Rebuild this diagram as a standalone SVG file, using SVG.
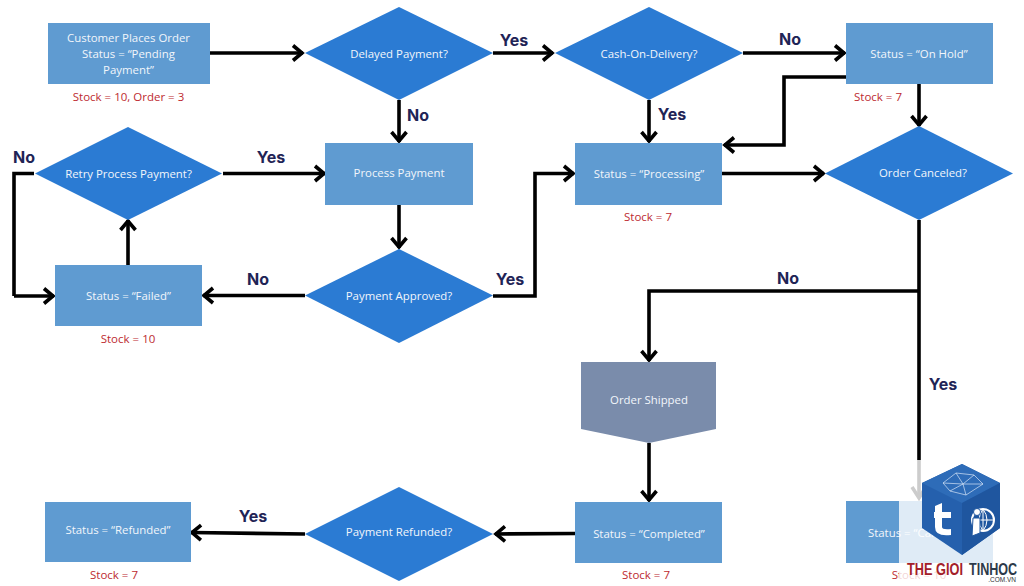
<svg xmlns="http://www.w3.org/2000/svg" width="1024" height="586" viewBox="0 0 1024 586">
<style>
.box{fill:#5f9bd1}
.dia{fill:#2b7bd3}
.gray{fill:#7a8cab}
.t{font:11.4px "Open Sans","Liberation Sans",sans-serif;fill:#f2f6fb;text-anchor:middle}
.s{font:11.5px "Open Sans","Liberation Sans",sans-serif;fill:#bd2a30;text-anchor:middle}
.l{font:bold 16px "Inter","Liberation Sans",sans-serif;fill:#1f2456;text-anchor:middle}
.c{fill:none;stroke:#000;stroke-width:3.6}
.a{marker-end:url(#h)}
.logo{font-family:"Liberation Sans",sans-serif;font-size:17px;font-weight:bold}
</style>
<defs>
<marker id="h" markerUnits="userSpaceOnUse" markerWidth="18" markerHeight="20" refX="14" refY="10" orient="auto" overflow="visible">
<path d="M4 2.500L13 10L4 17.500" fill="none" stroke="#000" stroke-width="3.6"/>
</marker>
</defs>
<rect width="1024" height="586" fill="#fff"/>
<g id="connectors">
<path class="c a" d="M210 53H303"/>
<path class="c a" d="M493 53H553"/>
<path class="c a" d="M743 53H845"/>
<path class="c a" d="M399 100V142"/>
<path class="c a" d="M649 100V142"/>
<path class="c a" d="M846 77H784V145H724"/>
<path class="c a" d="M919 84V126"/>
<path class="c a" d="M722 173.500H824"/>
<path class="c a" d="M223 173.500H325"/>
<path class="c" d="M34 173.500H14V296"/>
<path class="c a" d="M14 296H54"/>
<path class="c a" d="M128 265V220"/>
<path class="c a" d="M399 205V248"/>
<path class="c a" d="M305 295.500H203"/>
<path class="c a" d="M493 296H535V173.500H574"/>
<path class="c" d="M919 220V498"/>
<path class="c a" d="M919 291H649V361"/>
<path class="c a" d="M649 443V501"/>
<path class="c a" d="M575 533.500L495 534"/>
<path class="c a" d="M305 534L191 532.500"/>
<path d="M912 487L919 498L926 487" fill="none" stroke="#000" stroke-width="3.6"/>
</g>
<g id="n-order"><rect class="box" x="48" y="23" width="162" height="61"/><text class="t" x="128.500" y="42">Customer Places Order</text><text class="t" x="128.500" y="58">Status = “Pending</text><text class="t" x="128.500" y="74">Payment”</text><text class="s" x="128.500" y="101">Stock = 10, Order = 3</text></g>
<g id="n-delayed"><polygon class="dia" points="305,53 399,7 493,53 399,100"/><text class="t" x="399" y="58">Delayed Payment?</text></g>
<g id="n-cod"><polygon class="dia" points="555,53 649,7 743,53 649,100"/><text class="t" x="649" y="58">Cash-On-Delivery?</text></g>
<g id="n-hold"><rect class="box" x="846" y="23" width="147" height="61"/><text class="t" x="919" y="58">Status = “On Hold”</text><text class="s" x="878" y="101">Stock = 7</text></g>
<g id="n-retry"><polygon class="dia" points="35,173.500 128,127 222,173.500 128,220"/><text class="t" x="128.500" y="178">Retry Process Payment?</text></g>
<g id="n-process"><rect class="box" x="325" y="143" width="148" height="62"/><text class="t" x="399" y="177">Process Payment</text></g>
<g id="n-processing"><rect class="box" x="575" y="143" width="147" height="62"/><text class="t" x="649" y="178">Status = “Processing”</text><text class="s" x="648" y="221">Stock = 7</text></g>
<g id="n-canceled-q"><polygon class="dia" points="825,173.500 919,126 1013,173.500 919,220"/><text class="t" x="923" y="177">Order Canceled?</text></g>
<g id="n-failed"><rect class="box" x="55" y="265" width="147" height="61"/><text class="t" x="128.500" y="300">Status = “Failed”</text><text class="s" x="128" y="343">Stock = 10</text></g>
<g id="n-approved"><polygon class="dia" points="305,295.500 399,249 493,295.500 399,343"/><text class="t" x="399" y="300">Payment Approved?</text></g>
<g id="n-shipped"><polygon class="gray" points="581,362 716,362 716,429 649,443 581,429"/><text class="t" x="649" y="404">Order Shipped</text></g>
<g id="n-completed"><rect class="box" x="575" y="502" width="147" height="61"/><text class="t" x="649" y="538">Status = “Completed”</text><text class="s" x="646" y="579">Stock = 7</text></g>
<g id="n-refund-q"><polygon class="dia" points="305,534 399,487 493,534 399,581"/><text class="t" x="399" y="536">Payment Refunded?</text></g>
<g id="n-refunded"><rect class="box" x="45" y="502" width="146" height="60"/><text class="t" x="118" y="534">Status = “Refunded”</text><text class="s" x="114" y="579">Stock = 7</text></g>
<g id="n-canceled"><rect class="box" x="846" y="501" width="147" height="62"/><text class="t" x="919" y="537">Status = “Canceled”</text><text class="s" x="919" y="579">Stock = 10</text></g>
<g id="labels">
<text class="l" x="514" y="46">Yes</text>
<text class="l" x="790" y="45">No</text>
<text class="l" x="418" y="121">No</text>
<text class="l" x="672" y="120">Yes</text>
<text class="l" x="24" y="163">No</text>
<text class="l" x="271" y="163">Yes</text>
<text class="l" x="258" y="285">No</text>
<text class="l" x="510" y="285">Yes</text>
<text class="l" x="788" y="284">No</text>
<text class="l" x="943" y="390">Yes</text>
<text class="l" x="253" y="522">Yes</text>
</g>
<g id="logo">
<rect x="899" y="460" width="94" height="126" fill="#fff" opacity=".8"/>
<polygon points="962,464 1000,483 1000,528 962,555 922,528 922,483" fill="#2560ad"/>
<polygon points="962,464 1000,483 962,503 922,483" fill="#2e6cb8"/>
<polygon points="962,503 1000,483 1000,528 962,555" fill="#1f569f"/>
<path d="M943 483L956 473L974 475L983 484L966 495L950 491ZM956 473L963 484L974 475M950 491L963 484L966 495M943 483L963 484L983 484" fill="none" stroke="#d5e4f6" stroke-width=".7"/>
<path d="M935 506L942 503V512H951V518H942V527Q942 530 951 529V535Q935 537 935 527V518H934V512H935Z" fill="#fff"/>
<circle cx="983" cy="520" r="11" fill="none" stroke="#fff" stroke-width="2"/>
<path d="M983 509V531M972 520H994M983 509Q975 520 983 531M983 509Q991 520 983 531" fill="none" stroke="#fff" stroke-width="1"/>
<path d="M973 518H980V533L972 536Z" fill="#fff" stroke="#1f569f"/>
<circle cx="977" cy="512" r="3.500" fill="#fff" stroke="#1f569f"/>
<text class="logo" transform="translate(907 575) scale(.75 1)" fill="#a3202a">THE GIOI</text>
<text class="logo" transform="translate(969 575) scale(.74 1)" fill="#2d3a4a">TINHOC</text>
<text x="1016" y="582" font-family="'Liberation Sans',sans-serif" font-size="6.500" fill="#333" text-anchor="end">.COM.VN</text>
</g>
</svg>
